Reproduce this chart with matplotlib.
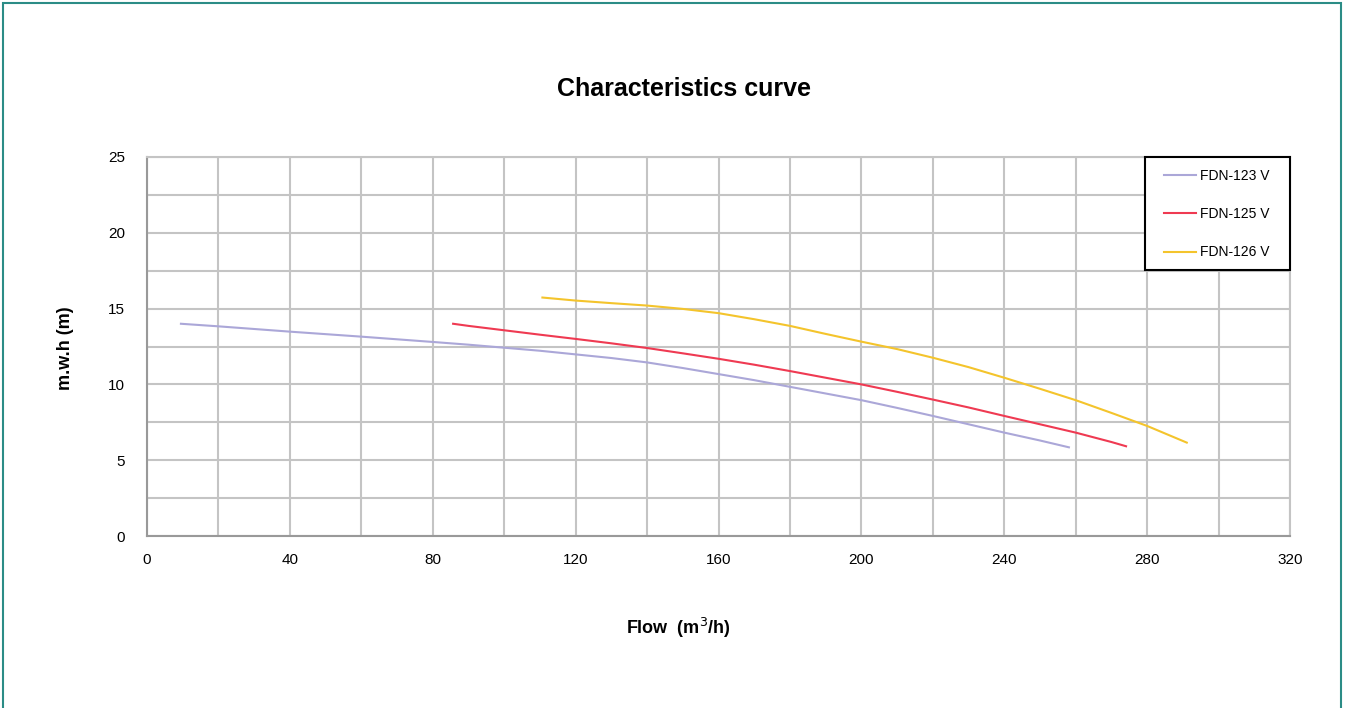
import matplotlib.pyplot as plt
from matplotlib.patches import Rectangle

plt.rcParams['font.family'] = ['Liberation Sans', 'DejaVu Sans']

#### DATA ####
# flow [m3/h] and head [m]
flow_123 = [9.5, 20, 40, 60, 80, 90, 100, 110, 120, 130, 140, 150, 160, 170, 180,
            190, 200, 210, 220, 230, 240, 250, 258.1]
head_123 = [14.0, 13.83, 13.48, 13.15, 12.8, 12.62, 12.42, 12.22, 11.98, 11.74, 11.45,
            11.08, 10.68, 10.28, 9.84, 9.4, 8.96, 8.45, 7.92, 7.37, 6.82, 6.3, 5.85]

flow_125 = [85.7, 90, 100, 110, 120, 130, 140, 150, 160, 170, 180, 190, 200, 210,
            220, 230, 240, 250, 260, 270, 274.1]
head_125 = [14.0, 13.86, 13.57, 13.28, 13.0, 12.71, 12.4, 12.05, 11.69, 11.3, 10.88,
            10.44, 10.0, 9.51, 9.0, 8.48, 7.92, 7.37, 6.82, 6.2, 5.92]

flow_126 = [110.7, 120, 130, 140, 150, 160, 170, 180, 190, 200, 210, 220, 230, 240,
            250, 260, 270, 280, 291.1]
head_126 = [15.73, 15.53, 15.36, 15.2, 14.98, 14.7, 14.3, 13.86, 13.33, 12.82, 12.33,
            11.76, 11.14, 10.44, 9.71, 8.96, 8.12, 7.26, 6.16]

labels = ['FDN-123 V', 'FDN-125 V', 'FDN-126 V']
colors = ['#aba7d8', '#ef3a52', '#f4c42c']

x_ticks = [0, 40, 80, 120, 160, 200, 240, 280, 320]
y_ticks = [0, 5, 10, 15, 20, 25]


def plot_curves():
    fig = plt.figure(figsize=(13.46, 7.08), dpi=100)
    ax = fig.add_axes([147 / 1346, 1 - 536 / 708, 1143 / 1346, 379 / 708])

    series = [(flow_123, head_123), (flow_125, head_125), (flow_126, head_126)]
    for (fx, hy), lab, col in zip(series, labels, colors):
        ax.plot(fx, hy, color=col, lw=1.5, label=lab, zorder=3,
                solid_joinstyle='round')

    ax.set_xlim(0, 320)
    ax.set_ylim(0, 25)
    ax.set_xticks(x_ticks)
    ax.set_yticks(y_ticks)
    ax.set_xticks(range(0, 321, 20), minor=True)
    ax.set_yticks([i * 2.5 for i in range(11)], minor=True)
    ax.grid(which='both', color='#c4c4c4', lw=1.5)
    ax.tick_params(which='both', length=0, labelsize=11)
    ax.tick_params(axis='x', pad=12)
    ax.tick_params(axis='y', pad=16)
    for side in ['top', 'right']:
        ax.spines[side].set_color('#c4c4c4')
        ax.spines[side].set_linewidth(1.5)
    for side in ['left', 'bottom']:
        ax.spines[side].set_color('#999999')
        ax.spines[side].set_linewidth(1.5)

    # legend box drawn by hand so it can be wider than the entries need
    ax.add_patch(Rectangle((1 - 145 / 1143, 1 - 113 / 379), 145 / 1143, 113 / 379,
                           transform=ax.transAxes, facecolor='white',
                           edgecolor='black', lw=1.5, zorder=4, clip_on=False))
    ax.legend(loc='upper right', bbox_to_anchor=(1 - 9 / 1143, 1), borderaxespad=0,
              frameon=False, fontsize=10, labelspacing=1.75,
              handlelength=2.3, handletextpad=0.3, borderpad=0.85)

    fig.text(684 / 1346, 1 - 89 / 708, 'Characteristics curve', ha='center', va='center',
             fontsize=18, fontweight='bold')
    fig.text(678 / 1346, 1 - 628 / 708, 'Flow  (m$^3$/h)', ha='center', va='center',
             fontsize=13, fontweight='bold')
    fig.text(65 / 1346, 1 - 348 / 708, 'm.w.h (m)', ha='center', va='center',
             rotation=90, fontsize=13, fontweight='bold')

    # teal frame round the whole card
    fig.patches.append(Rectangle((3 / 1346, -0.05), 1338 / 1346, 1.05 - 3 / 708,
                                 transform=fig.transFigure, fill=False,
                                 edgecolor='#2b8c86', lw=1.5))

    fig.savefig('out.png', dpi=100)


if __name__ == "__main__":
    plot_curves()
